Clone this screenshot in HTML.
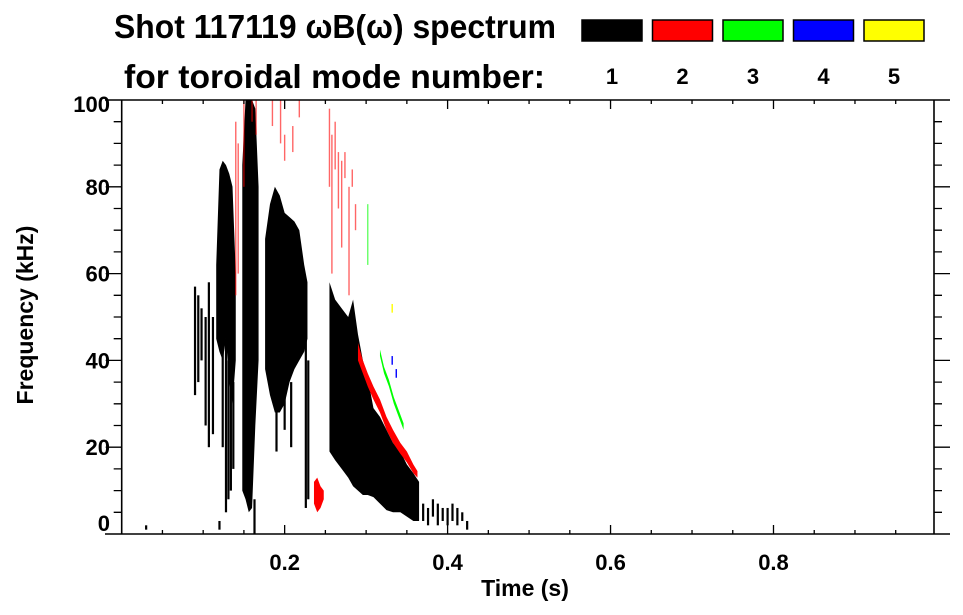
<!DOCTYPE html>
<html><head><meta charset="utf-8"><style>
html,body{margin:0;padding:0;background:#fff;}
svg{display:block;font-family:"Liberation Sans",Arial,sans-serif;font-weight:bold;}
</style></head><body>
<svg id="chart" width="963" height="615" viewBox="0 0 963 615" xmlns="http://www.w3.org/2000/svg">
<g id="header">
<text x="114" y="38" font-size="33" textLength="442" lengthAdjust="spacingAndGlyphs">Shot 117119 ωB(ω) spectrum</text>
<text x="124" y="88" font-size="33" textLength="421" lengthAdjust="spacingAndGlyphs">for toroidal mode number:</text>
</g>
<g id="legend"></g>
<g id="marks"></g>
<g id="axes"></g>
<text x="525" y="596" font-size="23" text-anchor="middle">Time (s)</text>
<text transform="translate(33,315) rotate(-90)" font-size="23" text-anchor="middle">Frequency (kHz)</text>
</svg>
<script>
// ---- data ----
const modeColors = ["#000000","#ff0000","#00ff00","#0000ff","#ffff00"];
const modeLabels = ["1","2","3","4","5"];
const xTickValues = [0.2,0.4,0.6,0.8];
const xTickLabels = ["0.2","0.4","0.6","0.8"];
const yTickValues = [0,20,40,60,80,100];
const yTickLabels = ["0","20","40","60","80","100"];
// isolated vertical stripes: time, low freq, high freq, mode
const stripeT  = [0.090,0.094,0.098,0.103,0.107,0.112,0.124,0.128,0.131,0.134,0.137,0.190,0.200,0.208,0.226,0.229,0.140,0.143,0.150,0.160,0.165,0.185,0.195,0.200,0.210,0.218,0.255,0.258,0.262,0.266,0.270,0.274,0.279,0.283,0.287,0.302,0.332,0.332,0.337,0.370,0.376,0.382,0.388,0.394,0.400,0.406,0.412,0.418,0.424,0.030,0.120,0.163];
const stripeLo = [32,35,40,25,20,23,20,5,8,10,15,19,24,20,6,8,55,60,80,95,92,94,90,86,88,96,80,60,84,75,66,82,55,80,70,62,51,39,36,3,2,4,2,3,2,3,2,3,1,1,1,0];
const stripeHi = [57,55,52,50,58,50,45,45,40,40,35,35,35,35,45,40,95,90,100,100,100,100,100,92,94,100,98,92,95,88,86,88,80,84,76,76,53,41,38,7,6,8,7,6,6,7,6,5,3,2,3,8];
const stripeMode=[1,1,1,1,1,1,1,1,1,1,1,1,1,1,1,1,2,2,2,2,2,2,2,2,2,2,2,2,2,2,2,2,2,2,2,3,5,4,4,1,1,1,1,1,1,1,1,1,1,1,1,1];
// filled regions (envelopes)
const regAT=[0.116,0.120,0.124,0.128,0.132,0.136,0.140], regATop=[62,84,86,85,83,80,60], regABot=[45,42,40,45,35,30,40];
const regBT=[0.148,0.152,0.156,0.160,0.164,0.168], regBTop=[85,100,100,100,98,80], regBBot=[10,8,5,6,25,40];
const regCT=[0.176,0.182,0.188,0.194,0.200,0.206,0.212,0.218,0.224,0.228], regCTop=[68,76,80,78,74,73,72,70,62,58], regCBot=[38,32,28,28,30,35,38,40,42,45];
const blobT=[0.236,0.240,0.244,0.248], blobTop=[12,13,11,10], blobBot=[7,5,6,8];
const bandT=[0.255,0.262,0.270,0.278,0.284,0.290,0.296,0.302,0.309,0.317,0.325,0.333,0.342,0.350,0.358,0.365], bandTop=[58,54,52,50,54,46,40,36,29,27,24,21,19,16,14,12], bandBot=[19,17,15,13,11,10,9,9,8.5,7,5.5,5,5,4,3,3];
const redT=[0.290,0.296,0.302,0.309,0.317,0.325,0.333,0.342,0.350,0.358,0.363], redTop=[44,40,37,34,31,27,24,21,19,16,14.5], redBot=[40,37,34,31,28,24,21,18.5,16.5,14,13];
const greenT=[0.317,0.322,0.328,0.334,0.340,0.346], greenTop=[42.5,38.5,35.5,31.5,28.5,25.5], greenBot=[41,37,34,30,27,24];

// ---- scales ----
const X0=121.7, X1=934, Y0=534, Y1=100;
const xs=t=>X0+t*(X1-X0)/0.997;
const ys=f=>Y0-f*(Y0-Y1)/100;
const NS="http://www.w3.org/2000/svg";
function mk(tag,attrs,parent){const e=document.createElementNS(NS,tag);for(const k in attrs)e.setAttribute(k,attrs[k]);parent.appendChild(e);return e;}

// legend
const lg=document.getElementById('legend');
modeColors.forEach((c,i)=>{
  const bx=582+i*70.5;
  const r=mk('rect',{x:bx,y:20,width:60,height:21,fill:c,stroke:'#000','stroke-width':1.5},lg);
  
  
  const t=mk('text',{x:bx+30,y:84,'font-size':22,'text-anchor':'middle'},lg);
  t.textContent=modeLabels[i];
  
  
});

// marks
const mg=document.getElementById('marks');
function region(T,Top,Bot,mode,name){
  let pts=T.map((t,i)=>xs(t)+','+ys(Top[i]));
  for(let i=T.length-1;i>=0;i--)pts.push(xs(T[i])+','+ys(Bot[i]));
  const p=mk('polygon',{points:pts.join(' '),fill:modeColors[mode-1]},mg);
  
  
}
region(regAT,regATop,regABot,1,'cluster-a');
region(regBT,regBTop,regBBot,1,'cluster-b');
region(regCT,regCTop,regCBot,1,'cluster-c');
region(bandT,bandTop,bandBot,1,'mode1-chirp-band');
region(blobT,blobTop,blobBot,2,'mode2-blob');
region(redT,redTop,redBot,2,'mode2-chirp-band');
region(greenT,greenTop,greenBot,3,'mode3-chirp-band');
stripeT.forEach((t,i)=>{
  const m=stripeMode[i];
  const w=(m===1)?2.2:1.4;
  const r=mk('rect',{x:xs(t)-w/2,y:ys(stripeHi[i]),width:w,height:Math.max(1,ys(stripeLo[i])-ys(stripeHi[i])),fill:modeColors[m-1],opacity:(m===2||m===3)?0.6:1},mg);
  
  
});

// axes
const ag=document.getElementById('axes');
const ax=[['M105,534H950','x-axis-line'],['M105,100H950','top-axis-line'],['M121.7,100V534','y-axis-line'],['M934,100V534','right-axis-line']];
ax.forEach(a=>{const p=mk('path',{d:a[0],stroke:'#000','stroke-width':1.6,fill:'none'},ag);
  
  });
let d='';
for(let k=1;k<20;k++){const t=k*0.05,x=xs(t),L=(k%4===0)?9:4;d+=`M${x},534v-${L}M${x},100v${L}`;}
for(let k=1;k<20;k++){const f=k*5,y=ys(f),L=(k%4===0)?16:8;d+=`M121.7,${y}h-${L}M934,${y}h${L}`;}
const tp=mk('path',{d:d,stroke:'#000','stroke-width':1.3,fill:'none'},ag);


xTickValues.forEach((v,i)=>{
  const t=mk('text',{x:xs(v),y:570,'font-size':22,'text-anchor':'middle'},ag);
  t.textContent=xTickLabels[i];
  
  
});
yTickValues.forEach((v,i)=>{
  const cy=Math.min(523,Math.max(104,ys(v)));
  const t=mk('text',{x:110,y:cy+8,'font-size':22,'text-anchor':'end'},ag);
  t.textContent=yTickLabels[i];
  
  
});
</script>
</body></html>
